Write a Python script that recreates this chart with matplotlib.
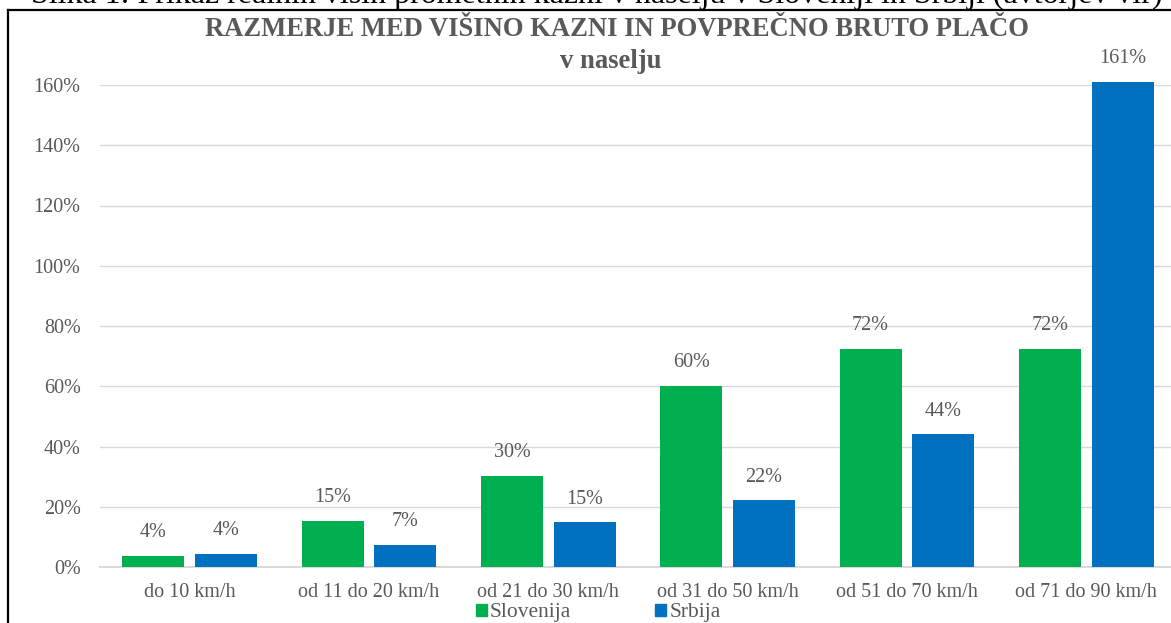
import matplotlib
matplotlib.use("Agg")
import matplotlib.pyplot as plt
from matplotlib.patches import Rectangle
from matplotlib.lines import Line2D
import numpy as np

categories = ["do 10 km/h", "od 11 do 20 km/h", "od 21 do 30 km/h",
              "od 31 do 50 km/h", "od 51 do 70 km/h", "od 71 do 90 km/h"]
slovenija = [3.7, 15.2, 30.1, 60.2, 72.3, 72.3]
srbija = [4.4, 7.4, 14.8, 22.1, 44.0, 161.0]
yticks = [0, 20, 40, 60, 80, 100, 120, 140, 160]

W, H = 1171, 623
fig = plt.figure(figsize=(W / 100, H / 100), dpi=100)
fig.patch.set_facecolor("white")

FONT = "Liberation Serif"
GRAY = "#595959"
GREEN = "#00B050"
BLUE = "#0070C0"

left = 100 / W
right = 1176 / W
bottom = 1 - 567 / H
top = 1 - 85 / H
ax = fig.add_axes([left, bottom, right - left, top - bottom])

x = np.arange(len(categories))
bw = 0.346
off = 0.203
b1 = ax.bar(x - off, slovenija, bw, color=GREEN, clip_on=False, zorder=3, label="Slovenija")
b2 = ax.bar(x + off, srbija, bw, color=BLUE, clip_on=False, zorder=3, label="Srbija")

for bars, vals in ((b1, slovenija), (b2, srbija)):
    for r, v in zip(bars, vals):
        ax.annotate(f"{round(v)}%", (r.get_x() + r.get_width() / 2, v),
                    xytext=(0, 10), textcoords="offset points", ha="center", va="bottom",
                    fontsize=14.5, family=FONT, color=GRAY, annotation_clip=False)

ax.set_xlim(-0.5, len(categories) - 0.5)
ax.set_ylim(0, 160)
ax.set_yticks(yticks)
ax.set_yticklabels([f"{t}%" for t in yticks])
ax.set_xticks(x)
ax.set_xticklabels(categories)
ax.grid(axis="y", color="#d9d9d9", linewidth=1.0, zorder=0)
ax.set_axisbelow(True)
for s in ("top", "right", "left"):
    ax.spines[s].set_visible(False)
ax.spines["bottom"].set_color("#d9d9d9")
ax.spines["bottom"].set_linewidth(1.4)
ax.tick_params(axis="both", length=0, labelsize=14.5, labelcolor=GRAY)
ax.tick_params(axis="y", pad=14)
ax.tick_params(axis="x", pad=11.5)
for lbl in ax.get_xticklabels() + ax.get_yticklabels():
    lbl.set_family(FONT)

# title
fig.text(617 / W, 1 - 29 / H, "RAZMERJE MED VIŠINO KAZNI IN POVPREČNO BRUTO PLAČO",
         ha="center", va="center", fontsize=19.2, fontweight="bold", family=FONT, color=GRAY)
fig.text(611 / W, 1 - 61 / H, "v naselju",
         ha="center", va="center", fontsize=19.2, fontweight="bold", family=FONT, color=GRAY)

# legend
handles = [Rectangle((0, 0), 1, 1, color=GREEN), Rectangle((0, 0), 1, 1, color=BLUE)]
leg = fig.legend(handles, ["Slovenija", "Srbija"], loc="center left",
                 bbox_to_anchor=(476 / W, 1 - 613 / H), ncol=2, frameon=False,
                 prop={"family": FONT, "size": 15.5}, handlelength=0.5, handleheight=0.5,
                 handletextpad=0.15, columnspacing=3.9, borderaxespad=0, borderpad=0)
for t in leg.get_texts():
    t.set_color(GRAY)

# frame lines of the embedded chart
BY = 1 - 10 / H
fig.add_artist(Line2D([8 / W, 8 / W], [0, BY], color="black", linewidth=1.6,
                      transform=fig.transFigure))
fig.add_artist(Line2D([8 / W, 1], [BY, BY], color="black", linewidth=1.6,
                      transform=fig.transFigure))

# caption cut at top
fig.text(597 / W, 1 - 3 / H,
         "Slika 1: Prikaz realnih višin prometnih kazni v naselju v Sloveniji in Srbiji (avtorjev vir)",
         ha="center", va="baseline", fontsize=23, family=FONT, color="black")

fig.savefig("out.png", dpi=100, facecolor="white")
